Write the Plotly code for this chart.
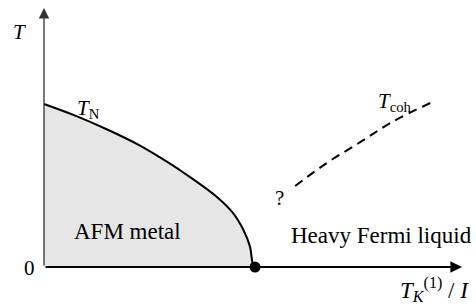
import plotly.graph_objects as go

# Néel temperature boundary T_N (x in units of critical coupling, T in units of T_N(0))
tn_x = [0.0, 0.139, 0.297, 0.455, 0.550, 0.660, 0.818, 0.897, 0.945, 0.976, 0.989, 1.0]
tn_t = [1.0, 0.933, 0.845, 0.745, 0.672, 0.580, 0.431, 0.329, 0.227, 0.125, 0.023, 0.0]

# Coherence temperature crossover (dashed)
coh_x = [1.19, 1.34, 1.50, 1.65, 1.84]
coh_t = [0.497, 0.638, 0.767, 0.890, 1.012]

# Quantum critical point
qcp_x = [1.0]
qcp_t = [0.0]

FONT = "Liberation Serif, Times New Roman, serif"
FS = 23

fig = go.Figure()
fig.add_trace(go.Scatter(x=tn_x, y=tn_t, mode="lines", line=dict(color="black", width=2, shape="spline", smoothing=1.0),
                         fill="tozeroy", fillcolor="#e6e6e6", hoverinfo="skip"))
fig.add_trace(go.Scatter(x=coh_x, y=coh_t, mode="lines", line=dict(color="black", width=2, dash="9px,6px", shape="spline"),
                         hoverinfo="skip"))

anns = []
# axes with arrows
anns.append(dict(x=0, y=1.589, ax=0, ay=0, xref="x", yref="y", axref="x", ayref="y", showarrow=True,
                 arrowhead=2, arrowsize=1.6, arrowwidth=1.3, arrowcolor="#333", text="", standoff=0))
anns.append(dict(x=1.981, y=0, ax=0, ay=0, xref="x", yref="y", axref="x", ayref="y", showarrow=True,
                 arrowhead=2, arrowsize=1.3, arrowwidth=1.8, arrowcolor="black", text="", standoff=0))

fig.add_trace(go.Scatter(x=qcp_x, y=qcp_t, mode="markers", marker=dict(color="black", size=11), hoverinfo="skip"))

def lab(x, y, t, size=FS):
    anns.append(dict(x=x, y=y, xref="x", yref="y", text=t, showarrow=False,
                     font=dict(family=FONT, size=size, color="black"), xanchor="center", yanchor="middle"))

lab(-0.114, 1.442, "<i>T</i>", 21)
lab(-0.071, -0.006, "0", 21)
lab(0.2085, 0.97, "<i>T</i><sub>N</sub>", 21)
lab(1.664, 1.01, "<i>T</i><sub>coh</sub>", 21)
lab(1.118, 0.423, "?", 21)
lab(0.396, 0.215, "AFM metal")
lab(1.597, 0.193, "Heavy Fermi liquid")
lab(1.848, -0.141, "<i>T</i><sub><i>K</i></sub><sup>(1)</sup> / <i>I</i>")

fig.update_layout(
    width=476, height=306, margin=dict(l=0, r=0, t=0, b=0),
    paper_bgcolor="white", plot_bgcolor="white", showlegend=False,
    xaxis=dict(range=[-0.2085, 2.047], visible=False, fixedrange=True),
    yaxis=dict(range=[-0.2393, 1.638], visible=False, fixedrange=True),
    annotations=anns,
)
fig.write_html("out.html", config={"displayModeBar": False},
               post_script="document.body.style.margin='0';document.body.style.overflow='hidden';")
